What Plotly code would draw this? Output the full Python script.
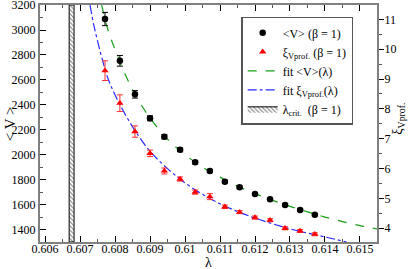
import plotly.graph_objects as go

# ---- data ----
lam = [0.607714, 0.60814, 0.60857, 0.60900, 0.60941, 0.60986, 0.61029, 0.61071,
       0.61114, 0.61156, 0.61200, 0.61243, 0.61286, 0.61329, 0.61371]
V_mean = [3088, 2753, 2484, 2292, 2144, 2040, 1939, 1869,
          1784, 1739, 1685, 1642, 1597, 1557, 1519]
V_err = [53, 43, 30, 20, 17, 15, 14, 13, 12, 11, 10, 10, 9, 9, 9]
xi = [9.28, 8.19, 7.24, 6.51, 5.92, 5.65, 5.21, 5.06,
      4.72, 4.54, 4.36, 4.27, 4.00, 3.91, 3.80]
xi_err = [0.33, 0.28, 0.19, 0.11, 0.10, 0.07, 0.07, 0.10,
          0.06, 0.05, 0.05, 0.05, 0.05, 0.05, 0.05]

fitV_lam = [0.60762, 0.6078, 0.6080, 0.6083, 0.6086, 0.6090, 0.6095, 0.6100, 0.6105,
            0.6110, 0.6115, 0.6120, 0.6125, 0.6130, 0.6135, 0.6140, 0.6145, 0.6150, 0.61549]
fitV = [3200, 3000, 2845, 2640, 2470, 2295, 2125, 2000, 1900,
        1820, 1748, 1688, 1634, 1586, 1542, 1500, 1464, 1432, 1405]

fitxi_lam = [0.607286, 0.6074, 0.6076, 0.6078, 0.6080, 0.6083, 0.6086, 0.6090, 0.6095,
             0.6100, 0.6105, 0.6110, 0.6115, 0.6120, 0.6125, 0.6130, 0.6135, 0.6140, 0.61462]
fitxi = [11.48, 10.78, 9.82, 9.02, 8.47, 7.80, 7.22, 6.58, 6.00,
         5.52, 5.14, 4.82, 4.56, 4.34, 4.15, 3.98, 3.84, 3.71, 3.54]

lam_crit = [0.60669, 0.60683]
x_range = [0.605857, 0.615486]
y_range = [1300, 3200.5]
y2_range = [3.54, 11.48]

FONT = "Liberation Serif"

fig = go.Figure()

# critical band (hatched)
fig.add_trace(go.Scatter(
    x=[lam_crit[0], lam_crit[1], lam_crit[1], lam_crit[0], lam_crit[0]],
    y=[y_range[0], y_range[0], y_range[1], y_range[1], y_range[0]],
    mode="lines", fill="toself", fillcolor="white",
    fillpattern=dict(shape="\\", fgcolor="black", bgcolor="white", size=3, solidity=0.35),
    line=dict(color="black", width=1),
    name="λ<sub>crit.</sub>  (β = 1)", legendrank=5, hoverinfo="skip"))

fig.add_trace(go.Scatter(
    x=fitV_lam, y=fitV, mode="lines", line=dict(color="#1a9e1a", width=1.2, dash="dash", shape="spline"),
    name="fit &lt;V&gt;(λ)", legendrank=3))

fig.add_trace(go.Scatter(
    x=fitxi_lam, y=fitxi, yaxis="y2", mode="lines",
    line=dict(color="#2a2aff", width=1.2, dash="dashdot", shape="spline"),
    name="fit ξ<sub>Vprof.</sub>(λ)", legendrank=4))

fig.add_trace(go.Scatter(
    x=lam, y=V_mean, mode="markers",
    marker=dict(symbol="circle", size=6.5, color="black"),
    error_y=dict(type="data", array=V_err, color="black", thickness=1, width=3),
    name="&lt;V&gt; (β = 1)", legendrank=1))

fig.add_trace(go.Scatter(
    x=lam, y=xi, yaxis="y2", mode="markers",
    marker=dict(symbol="triangle-up", size=6.5, color="red"),
    error_y=dict(type="data", array=xi_err, color="#ff3030", thickness=1, width=3),
    name="ξ<sub>Vprof.</sub> (β = 1)", legendrank=2))

axis_common = dict(showline=True, linecolor="#808080", linewidth=2, showgrid=False,
                   zeroline=False, tickcolor="black", automargin=False,
                   ticklabeloverflow="allow",
                   tickfont=dict(family=FONT, size=12, color="black"))

fig.update_layout(
    width=415, height=269, autosize=False,
    margin=dict(l=40, r=38, t=5, b=27),
    paper_bgcolor="white", plot_bgcolor="white",
    font=dict(family=FONT, size=12, color="black"),
    showlegend=True,
    legend=dict(x=0.597, y=0.95, xanchor="left", yanchor="top",
                bgcolor="white", bordercolor="#555555", borderwidth=1.5,
                font=dict(family=FONT, size=12), tracegroupgap=0,
                itemwidth=30),
    xaxis=dict(range=x_range, tick0=0.606, dtick=0.001, ticks="inside", ticklen=6,
               mirror="ticks", ticklabelstandoff=-5,
               minor=dict(dtick=0.0005, ticks="inside", ticklen=3, tickcolor="#555555"),
               **axis_common),
    yaxis=dict(range=y_range, tick0=1400, dtick=200, ticks="inside", ticklen=6,
               minor=dict(dtick=100, ticks="inside", ticklen=3, tickcolor="#555555"),
               **axis_common),
    yaxis2=dict(range=y2_range, overlaying="y", side="right", tick0=4, dtick=1,
                ticks="outside", ticklen=5, ticklabelstandoff=-2,
                minor=dict(dtick=0.5, ticks="outside", ticklen=3, tickcolor="#555555"),
                **axis_common),
    annotations=[
        dict(text="λ", xref="paper", yref="paper", x=0.5, y=-0.086, xanchor="center",
             yanchor="middle", showarrow=False, font=dict(family=FONT, size=14)),
        dict(text="&lt; V &gt;", xref="paper", yref="paper", x=-0.09, y=0.5,
             xanchor="center", yanchor="middle", textangle=-90, showarrow=False,
             font=dict(family=FONT, size=15)),
        dict(text="ξ<sub>Vprof.</sub>", xref="paper", yref="paper", x=1.065, y=0.52,
             xanchor="center", yanchor="middle", textangle=-90, showarrow=False,
             font=dict(family=FONT, size=14)),
    ],
)

fig.write_html(
    "out.html",
    config={"displayModeBar": False, "responsive": False},
    post_script="document.body.style.margin='0';document.body.style.overflow='hidden';",
)
